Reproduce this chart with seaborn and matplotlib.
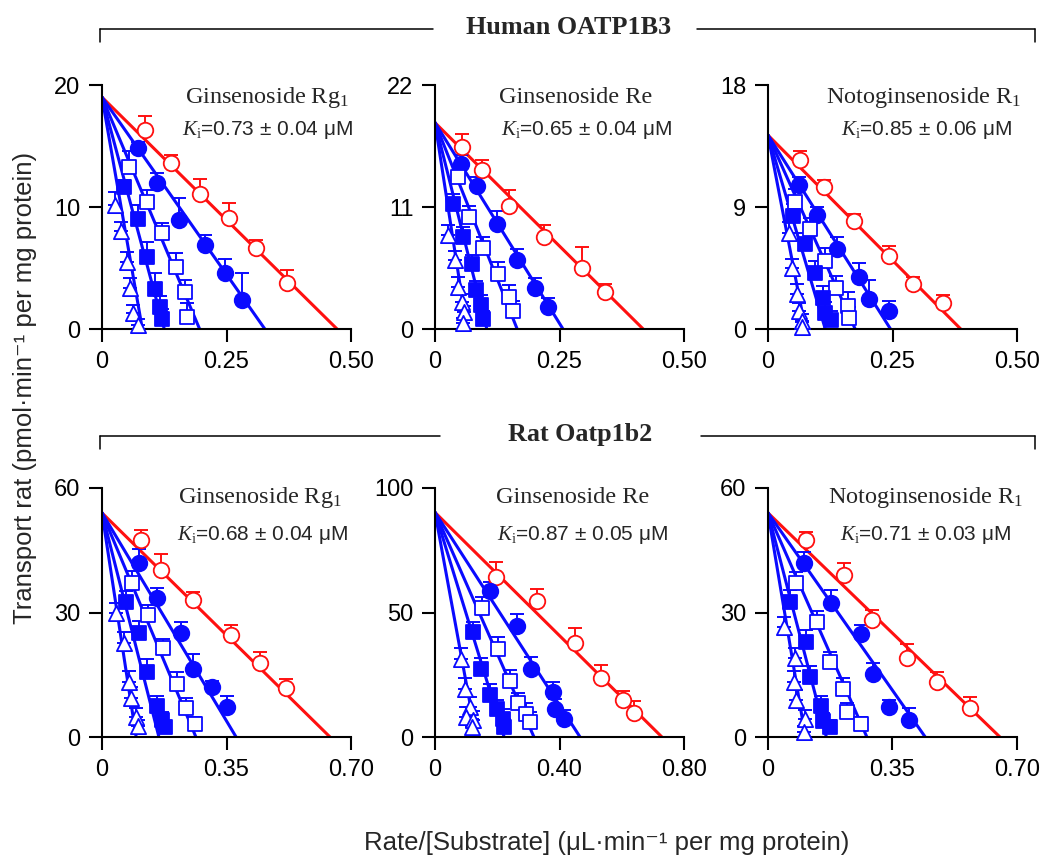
import matplotlib
matplotlib.use("Agg")
import matplotlib.pyplot as plt
from matplotlib.lines import Line2D
import seaborn as sns

# series order: control (red open circle), then increasing inhibitor
# human OATP1B3 + ginsenoside Rg1
h_rg1_x = [[0.087, 0.139, 0.196, 0.256, 0.310, 0.371],
           [0.073, 0.111, 0.155, 0.206, 0.246, 0.282],
           [0.054, 0.091, 0.121, 0.149, 0.167, 0.171],
           [0.044, 0.073, 0.091, 0.107, 0.117, 0.121],
           [0.026, 0.038, 0.050, 0.056, 0.062, 0.073]]
h_rg1_y = [[16.3, 13.6, 11.1, 9.1, 6.6, 3.8],
           [14.8, 12.0, 8.9, 6.9, 4.6, 2.4],
           [13.3, 10.4, 7.9, 5.1, 3.0, 1.0],
           [11.6, 9.0, 5.9, 3.3, 1.8, 0.8],
           [10.2, 8.0, 5.5, 3.4, 1.3, 0.3]]
h_rg1_err = [[1.2, 0.7, 1.2, 1.2, 0.7, 1.0],
             [0.5, 0.8, 1.8, 0.8, 1.1, 2.2],
             [1.3, 1.0, 0.8, 1.1, 1.0, 1.1],
             [0.6, 1.2, 1.2, 1.3, 0.9, 0.8],
             [1.0, 0.8, 0.8, 0.8, 0.7, 0.5]]
h_rg1_vmax = 19.0
h_rg1_xint = [0.472, 0.327, 0.196, 0.125, 0.081]

# human OATP1B3 + ginsenoside Re
h_re_x = [[0.054, 0.094, 0.149, 0.219, 0.295, 0.341],
          [0.052, 0.084, 0.124, 0.165, 0.201, 0.227],
          [0.046, 0.068, 0.096, 0.127, 0.149, 0.157],
          [0.036, 0.056, 0.074, 0.082, 0.092, 0.096],
          [0.026, 0.040, 0.046, 0.054, 0.058, 0.056]]
h_re_y = [[16.4, 14.3, 11.1, 8.3, 5.5, 3.3],
          [14.9, 12.9, 9.5, 6.2, 3.7, 2.0],
          [13.7, 10.1, 7.3, 5.0, 2.9, 1.6],
          [11.3, 8.3, 5.9, 3.5, 2.2, 0.9],
          [8.5, 6.2, 3.8, 2.4, 1.5, 0.5]]
h_re_err = [[1.2, 0.9, 1.4, 1.1, 1.9, 0.8],
            [0.8, 0.8, 1.1, 1.0, 0.9, 0.8],
            [1.0, 1.0, 1.0, 1.0, 1.1, 0.9],
            [0.9, 0.9, 0.8, 0.8, 0.9, 0.7],
            [0.9, 0.8, 0.9, 0.8, 0.6, 0.5]]
h_re_vmax = 18.6
h_re_xint = [0.418, 0.257, 0.165, 0.104, 0.064]

# human OATP1B3 + notoginsenoside R1
h_r1_x = [[0.065, 0.113, 0.173, 0.242, 0.292, 0.351],
          [0.063, 0.099, 0.139, 0.183, 0.202, 0.242],
          [0.054, 0.085, 0.115, 0.137, 0.161, 0.163],
          [0.050, 0.075, 0.095, 0.111, 0.115, 0.127],
          [0.042, 0.048, 0.058, 0.063, 0.069, 0.069]]
h_r1_y = [[12.5, 10.5, 8.0, 5.4, 3.3, 1.9],
          [10.6, 8.4, 5.9, 3.8, 2.2, 1.3],
          [9.4, 7.4, 5.0, 3.0, 1.7, 0.8],
          [8.3, 6.3, 4.1, 2.3, 1.2, 0.7],
          [7.1, 4.5, 2.6, 1.3, 0.6, 0.15]]
h_r1_err = [[0.6, 0.5, 0.5, 0.7, 0.5, 0.6],
            [0.6, 0.6, 0.9, 1.1, 1.4, 0.8],
            [0.9, 0.8, 1.0, 0.9, 1.0, 0.8],
            [0.9, 0.8, 0.9, 0.9, 0.8, 0.6],
            [0.8, 0.7, 0.7, 0.6, 0.5, 0.4]]
h_r1_vmax = 14.3
h_r1_xint = [0.387, 0.246, 0.175, 0.115, 0.075]

# rat Oatp1b2 + ginsenoside Rg1
r_rg1_x = [[0.110, 0.166, 0.256, 0.363, 0.444, 0.517],
           [0.104, 0.155, 0.222, 0.256, 0.309, 0.351],
           [0.084, 0.129, 0.171, 0.211, 0.236, 0.261],
           [0.067, 0.104, 0.126, 0.155, 0.169, 0.177],
           [0.039, 0.062, 0.076, 0.081, 0.096, 0.101]]
r_rg1_y = [[47.5, 40.3, 33.1, 24.5, 17.8, 11.8],
           [42.0, 33.6, 25.0, 16.3, 12.0, 7.2],
           [37.2, 29.3, 21.4, 12.7, 7.0, 3.1],
           [32.6, 25.0, 15.6, 7.4, 4.1, 2.4],
           [29.8, 22.6, 13.2, 9.4, 4.8, 2.6]]
r_rg1_err = [[2.4, 3.7, 1.8, 2.6, 2.6, 2.2],
             [3.2, 2.2, 2.6, 3.7, 1.6, 2.6],
             [2.8, 2.6, 2.2, 3.0, 2.4, 1.6],
             [2.6, 3.0, 3.2, 2.4, 2.0, 1.4],
             [2.4, 2.6, 2.8, 2.6, 2.2, 1.6]]
r_rg1_vmax = 54.0
r_rg1_xint = [0.641, 0.377, 0.264, 0.160, 0.096]

# rat Oatp1b2 + ginsenoside Re
r_re_x = [[0.196, 0.328, 0.450, 0.533, 0.604, 0.639],
          [0.177, 0.263, 0.308, 0.379, 0.386, 0.414],
          [0.151, 0.202, 0.241, 0.267, 0.292, 0.305],
          [0.122, 0.148, 0.177, 0.199, 0.218, 0.222],
          [0.084, 0.096, 0.112, 0.100, 0.122, 0.119]]
r_re_y = [[64.2, 54.5, 37.8, 23.6, 15.0, 9.8],
          [58.5, 44.7, 27.2, 17.9, 11.4, 7.3],
          [52.0, 35.4, 22.4, 13.8, 9.3, 6.1],
          [42.3, 27.2, 16.7, 11.4, 7.3, 4.1],
          [31.3, 19.1, 12.2, 8.1, 6.9, 4.1]]
r_re_err = [[6.2, 4.9, 6.1, 5.3, 3.4, 4.5],
            [3.8, 4.6, 4.8, 4.2, 4.0, 3.6],
            [4.2, 4.6, 4.4, 4.0, 4.2, 3.8],
            [4.0, 4.4, 4.4, 3.6, 3.8, 3.2],
            [4.6, 4.4, 4.0, 3.8, 3.6, 3.0]]
r_re_vmax = 90.2
r_re_xint = [0.729, 0.466, 0.318, 0.222, 0.132]

# rat Oatp1b2 + notoginsenoside R1
r_r1_x = [[0.108, 0.215, 0.292, 0.391, 0.476, 0.567],
          [0.102, 0.176, 0.261, 0.295, 0.340, 0.397],
          [0.079, 0.139, 0.173, 0.210, 0.221, 0.261],
          [0.062, 0.108, 0.119, 0.150, 0.156, 0.173],
          [0.045, 0.077, 0.074, 0.079, 0.105, 0.102]]
r_r1_y = [[47.5, 39.1, 28.3, 19.0, 13.2, 7.0],
          [42.0, 32.2, 24.7, 15.1, 7.2, 4.1],
          [37.2, 27.6, 18.0, 11.5, 6.0, 3.1],
          [32.6, 22.8, 14.4, 7.4, 3.8, 2.4],
          [26.4, 19.0, 13.2, 8.9, 4.3, 1.2]]
r_r1_err = [[1.8, 2.8, 2.2, 3.4, 2.4, 2.6],
            [2.6, 3.2, 2.3, 2.7, 1.8, 2.8],
            [2.6, 2.8, 2.4, 2.6, 2.2, 1.8],
            [2.8, 3.0, 2.6, 2.4, 2.0, 1.6],
            [2.6, 2.4, 2.6, 2.4, 2.2, 1.4]]
r_r1_vmax = 54.0
r_r1_xint = [0.652, 0.442, 0.278, 0.164, 0.105]

compounds = ["Ginsenoside Rg$_1$", "Ginsenoside Re", "Notoginsenoside R$_1$"]
ki_human = ["0.73 ± 0.04", "0.65 ± 0.04", "0.85 ± 0.06"]
ki_rat = ["0.68 ± 0.04", "0.87 ± 0.05", "0.71 ± 0.03"]
yticks = [[0, 10, 20], [0, 11, 22], [0, 9, 18], [0, 30, 60], [0, 50, 100], [0, 30, 60]]
xticks = [[0, 0.25, 0.50], [0, 0.25, 0.50], [0, 0.25, 0.50],
          [0, 0.35, 0.70], [0, 0.40, 0.80], [0, 0.35, 0.70]]
xticklabels = [["0", "0.25", "0.50"], ["0", "0.25", "0.50"], ["0", "0.25", "0.50"],
               ["0", "0.35", "0.70"], ["0", "0.40", "0.80"], ["0", "0.35", "0.70"]]

sns.set_theme(style="ticks")
plt.rcParams['font.family'] = ['Liberation Sans', 'DejaVu Sans']
plt.rcParams['mathtext.fontset'] = 'custom'
plt.rcParams['mathtext.rm'] = 'Liberation Serif'
plt.rcParams['mathtext.it'] = 'Liberation Serif:italic'

RED = '#ff1010'
BLUE = '#0a0aff'
colors = [RED, BLUE, BLUE, BLUE, BLUE]
markers = ['o', 'o', 's', 's', '^']
filled = [False, True, False, True, False]
sizes = [125, 125, 115, 115, 120]

fig = plt.figure(figsize=(10.41, 8.57), dpi=100)

W = 249 / 1041
lefts = [102 / 1041, 435 / 1041, 768 / 1041]
rows = [(1 - 329 / 857, 244 / 857), (1 - 737 / 857, 249 / 857)]

panels = [(h_rg1_x, h_rg1_y, h_rg1_err, h_rg1_vmax, h_rg1_xint),
          (h_re_x, h_re_y, h_re_err, h_re_vmax, h_re_xint),
          (h_r1_x, h_r1_y, h_r1_err, h_r1_vmax, h_r1_xint),
          (r_rg1_x, r_rg1_y, r_rg1_err, r_rg1_vmax, r_rg1_xint),
          (r_re_x, r_re_y, r_re_err, r_re_vmax, r_re_xint),
          (r_r1_x, r_r1_y, r_r1_err, r_r1_vmax, r_r1_xint)]

# text placement (axes fraction)
title_xy = [(0.663, 0.947), (0.566, 0.947), (0.625, 0.947),
            (0.635, 0.960), (0.554, 0.960), (0.631, 0.960)]
ki_xy = [(0.665, 0.816), (0.610, 0.816), (0.637, 0.816),
         (0.643, 0.811), (0.594, 0.811), (0.631, 0.811)]

for i, (px, py, perr, vmax, xint) in enumerate(panels):
    r, c = divmod(i, 3)
    ax = fig.add_axes([lefts[c], rows[r][0], W, rows[r][1]])

    for k in range(5):
        sns.lineplot(x=[0, xint[k]], y=[vmax, 0], ax=ax, color=colors[k],
                     linewidth=2.2, zorder=2)
        ax.errorbar(px[k], py[k], yerr=[[0] * len(perr[k]), perr[k]], fmt='none',
                    ecolor=colors[k], elinewidth=1.4, capsize=5, capthick=1.4,
                    zorder=3, clip_on=False)
        sns.scatterplot(x=px[k], y=py[k], ax=ax, marker=markers[k], s=sizes[k],
                        facecolor=colors[k] if filled[k] else 'white',
                        edgecolor=colors[k], linewidth=1.3, zorder=4, clip_on=False)

    ax.set_xlim(xticks[i][0], xticks[i][-1])
    ax.set_ylim(yticks[i][0], yticks[i][-1])
    ax.set_xticks(xticks[i])
    ax.set_xticklabels(xticklabels[i])
    ax.set_yticks(yticks[i])
    ax.set_xlabel("")
    ax.set_ylabel("")
    sns.despine(ax=ax)
    for s in ['left', 'bottom']:
        ax.spines[s].set_linewidth(1.5)
        ax.spines[s].set_color('black')
    ax.tick_params(direction='out', length=9.5, width=1.5, colors='black',
                   labelsize=17, pad=6)

    ax.text(*title_xy[i], compounds[c], transform=ax.transAxes, ha='center',
            va='center', fontsize=17.5, family='Liberation Serif')
    ki = (ki_human if r == 0 else ki_rat)[c]
    ax.text(*ki_xy[i], r"$K_\mathrm{i}$=" + ki + " μM", transform=ax.transAxes,
            ha='center', va='center', fontsize=15)

# group brackets
def bracket(y, x0, x1, gap0, gap1, xc, label):
    yf = 1 - y / 857
    ydrop = 1 - (y + 13) / 857
    for seg in [(x0, gap0), (gap1, x1)]:
        fig.add_artist(Line2D([seg[0] / 1041, seg[1] / 1041], [yf, yf],
                              color='black', linewidth=1.1))
    for xe in [x0, x1]:
        fig.add_artist(Line2D([xe / 1041, xe / 1041], [yf, ydrop],
                              color='black', linewidth=1.1))
    fig.text(xc / 1041, 1 - (y - 2) / 857, label, ha='center', va='center',
             fontsize=18.8, fontweight='bold', family='Liberation Serif')

bracket(29, 100, 1035, 433, 697, 569, "Human OATP1B3")
bracket(436, 100, 1035, 440, 701, 580, "Rat Oatp1b2")

fig.text(25 / 1041, 1 - 388 / 857, "Transport rat (pmol·min⁻¹ per mg protein)",
         rotation=90, ha='center', va='center', fontsize=18.5)
fig.text(607 / 1041, 1 - 843 / 857, "Rate/[Substrate] (μL·min⁻¹ per mg protein)",
         ha='center', va='center', fontsize=18.5)

fig.savefig("out.png", dpi=100)
